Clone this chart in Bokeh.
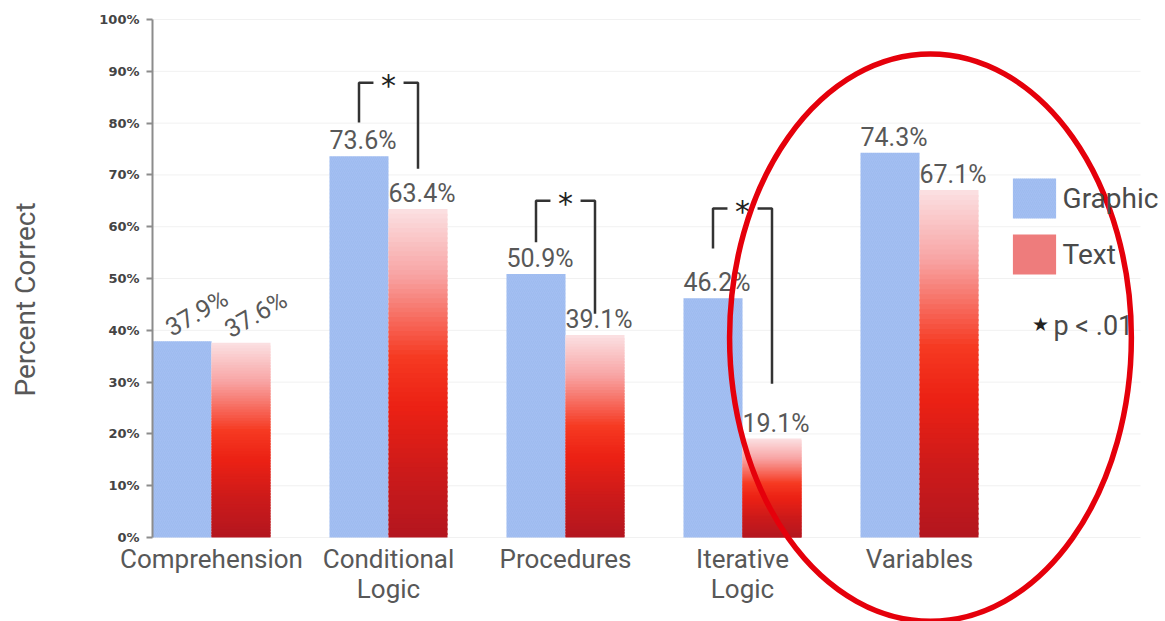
import numpy as np
from bokeh.plotting import figure
from bokeh.models import (Range1d, FixedTicker, Legend, LegendItem, Label, LinearAxis,
                          ColumnDataSource)
from bokeh.core.properties import value
from bokeh.embed import file_html
from bokeh.resources import INLINE

# ---- data ----
categories = ["Comprehension", "Conditional\nLogic", "Procedures", "Iterative\nLogic", "Variables"]
graphic = [37.9, 73.6, 50.9, 46.2, 74.3]
text_vals = [37.6, 63.4, 39.1, 19.1, 67.1]
y_ticks = [0, 10, 20, 30, 40, 50, 60, 70, 80, 90, 100]
y_tick_labels = ["0%", "10%", "20%", "30%", "40%", "50%", "60%", "70%", "80%", "90%", "100%"]

# significance brackets (category index, bracket top, left leg end, right leg end)
sig_index = [1, 2, 3]
sig_top = [87.8, 65.0, 63.5]
sig_left_end = [80.1, 57.0, 55.8]
sig_right_end = [71.2, 43.2, 29.7]

highlight_index = 4  # category circled in red

# ---- styling ----
GRAY = "#585858"
BLUE = "#a3bff2"
BAR_W = 1 / 3
PX = 177.0                      # pixels per category step
X0 = -BAR_W - 152 / PX          # left edge of the canvas in data units
grad_stops = [0.0, 0.2, 0.45, 0.6, 0.8, 1.0]
grad_colors = ["#fbe1e3", "#f8a4a4", "#f63a22", "#ec2114", "#cc1a1a", "#b3161f"]

# the frame spans the whole canvas; the axes are pinned inside it
p = figure(width=1165, height=621, output_backend="svg", toolbar_location=None,
           x_axis_location=None, y_axis_location=None,
           min_border_left=0, min_border_right=0, min_border_top=0, min_border_bottom=0,
           x_range=Range1d(X0, X0 + 1165 / PX),
           y_range=Range1d(-16.2, 103.67))
p.outline_line_color = None
p.background_fill_color = "white"
p.xgrid.grid_line_color = None
p.ygrid.grid_line_color = None

idx = np.arange(len(categories))
g = np.array(graphic)
t = np.array(text_vals)

# faint horizontal guides from the axis line to the right edge
p.segment(x0=[-BAR_W] * len(y_ticks), x1=[X0 + 1140 / PX] * len(y_ticks),
          y0=y_ticks, y1=y_ticks, line_color="#f1f1f1", line_width=1)

yax = LinearAxis(fixed_location=-BAR_W, ticker=FixedTicker(ticks=y_ticks),
                 major_label_overrides={tk: s for tk, s in zip(y_ticks, y_tick_labels)},
                 bounds=(0, 100))
yax.axis_line_color = "#8c8c8c"
yax.axis_line_width = 2
yax.major_tick_line_color = "#8c8c8c"
yax.major_tick_line_width = 2
yax.major_tick_out = 6
yax.major_tick_in = 0
yax.minor_tick_line_color = None
yax.major_label_text_font = "DejaVu Sans"
yax.major_label_text_font_style = "bold"
yax.major_label_text_font_size = "13px"
yax.major_label_text_color = "#444444"
yax.major_label_standoff = 7
p.add_layout(yax, "left")

# y-axis title
p.add_layout(Label(x=25, y=322, x_units="screen", y_units="screen", text="Percent Correct",
                   angle=90, angle_units="deg", text_align="center", text_baseline="middle",
                   text_font="Roboto", text_font_size="28px", text_color=GRAY))

xax = LinearAxis(fixed_location=0, ticker=FixedTicker(ticks=list(idx)),
                 major_label_overrides={int(i): c for i, c in zip(idx, categories)})
xax.axis_line_color = None
xax.major_tick_line_color = None
xax.minor_tick_line_color = None
xax.major_label_text_font = "Roboto"
xax.major_label_text_font_size = "26px"
xax.major_label_text_color = GRAY
xax.major_label_standoff = 0
xax.major_label_text_line_height = 1.03
p.add_layout(xax, "below")

# Graphic bars (hatched light blue)
gbars = p.quad(left=idx - BAR_W, right=idx, bottom=0, top=g,
               fill_color=BLUE, line_color=None,
               hatch_pattern="right_diagonal_line", hatch_color="#8fabe3",
               hatch_alpha=0.45, hatch_scale=4, hatch_weight=0.6)

# Text bars: vertical gradient built from thin overlapping slices of each bar
N = 70
def interp_color(f):
    rgb = np.array([[int(c[i:i + 2], 16) for i in (1, 3, 5)] for c in grad_colors], float)
    out = [np.interp(f, grad_stops, rgb[:, k]) for k in range(3)]
    return "#%02x%02x%02x" % tuple(int(round(v)) for v in out)

sl, sr, sb, st, sc = [], [], [], [], []
for i, v in zip(idx, t):
    edges = np.linspace(v, 0, N + 1)
    for k in range(N):
        sl.append(i); sr.append(i + BAR_W)
        st.append(edges[k]); sb.append(max(edges[k + 1] - 0.4, 0))
        sc.append(interp_color((k + 0.5) / N))
p.quad(left=sl, right=sr, bottom=sb, top=st, fill_color=sc, line_color=None)

# value labels above bars
close = np.abs(g - t) < 5
flat = ColumnDataSource(dict(
    x=np.concatenate([idx[~close] - BAR_W / 2, idx[~close] + BAR_W / 2]),
    y=np.concatenate([g[~close], t[~close]]),
    s=["%.1f%%" % v for v in np.concatenate([g[~close], t[~close]])]))
p.text(x="x", y="y", text="s", source=flat, text_align="center", text_baseline="bottom",
       x_offset=4, y_offset=-1, text_font=value("Roboto"), text_font_size="25px",
       text_color=GRAY)
tilt = ColumnDataSource(dict(
    x=np.concatenate([idx[close] - BAR_W / 2, idx[close] + BAR_W / 2]),
    y=np.concatenate([g[close], t[close]]),
    s=["%.1f%%" % v for v in np.concatenate([g[close], t[close]])]))
p.text(x="x", y="y", text="s", source=tilt, text_align="left", text_baseline="bottom",
       angle=30, angle_units="deg", x_offset=-7, y_offset=1,
       text_font=value("Roboto"), text_font_size="25px", text_color=GRAY)

# significance brackets with star
gap = 0.085
xs, ys = [], []
for i, top, le, re in zip(sig_index, sig_top, sig_left_end, sig_right_end):
    xs.append([i - BAR_W / 2, i - BAR_W / 2, i - gap]); ys.append([le, top, top])
    xs.append([i + gap, i + BAR_W / 2, i + BAR_W / 2]); ys.append([top, top, re])
p.multi_line(xs=xs, ys=ys, line_color="#333333", line_width=2.5)
p.text(x=sig_index, y=sig_top, text=["*"] * len(sig_index), text_align="center",
       text_baseline="middle", y_offset=3, text_font=value("DejaVu Sans"),
       text_font_size="30px", text_color="#222222")

# red highlight ring around one category
p.ellipse(x=highlight_index + 0.062, y=38.6, width=2.27, height=109.5,
          fill_color=None, line_color="#e5000b", line_width=5.5)

# legend (swatch for the gradient series drawn off-range)
tdummy = p.quad(left=[-5], right=[-4.5], bottom=[0], top=[1], fill_color="#ee7c7c",
                line_color=None)
legend = Legend(items=[LegendItem(label="Graphic", renderers=[gbars]),
                       LegendItem(label="Text", renderers=[tdummy])],
                location=(1006.6, 342), glyph_width=54, glyph_height=50, label_height=50,
                spacing=6, padding=0, margin=0, label_standoff=2,
                label_text_font="Roboto", label_text_font_size="28px",
                label_text_color="#4a4a4a", border_line_alpha=0,
                background_fill_alpha=0)
p.add_layout(legend)
p.add_layout(Label(x=1031, y=297, x_units="screen", y_units="screen", text="★",
                   text_font_size="19px", text_color="#222222", text_baseline="middle"))
p.add_layout(Label(x=1053, y=296, x_units="screen", y_units="screen", text="p < .01",
                   text_font="Roboto", text_font_size="27px", text_color="#4a4a4a",
                   text_baseline="middle"))

open("out.html", "w").write(file_html(p, INLINE))
